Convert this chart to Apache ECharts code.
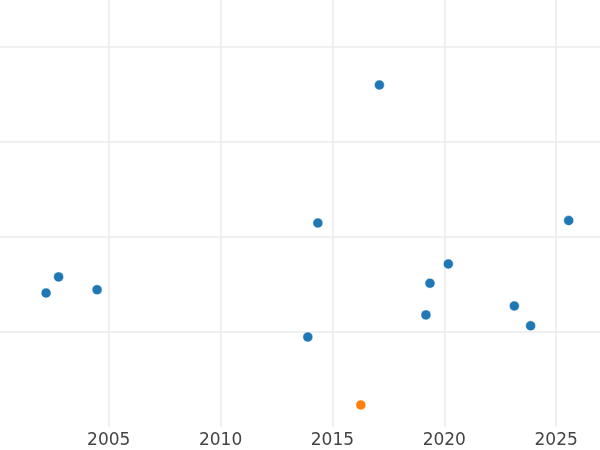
<!DOCTYPE html>
<html>
<head>
<meta charset="utf-8">
<script src="https://cdn.jsdelivr.net/npm/echarts@6/dist/echarts.min.js"></script>
<style>
html,body{margin:0;padding:0;background:#fff;width:600px;height:450px;overflow:hidden;position:relative}
#c{position:absolute;left:-118px;top:-48px;width:789px;height:498px}
</style>
</head>
<body>
<div id="c"></div>
<script>
// Blue series: [year, value]
const blueYears = [2002.20, 2002.76, 2004.48, 2013.90, 2014.35, 2017.10, 2019.18, 2019.36, 2020.18, 2023.13, 2023.86, 2025.56];
const blueValues = [1.41, 1.58, 1.445, 0.947, 2.147, 3.60, 1.18, 1.513, 1.716, 1.274, 1.065, 2.173];
// Orange series
const orangeYears = [2016.27];
const orangeValues = [0.232];
const xTicks = [2005, 2010, 2015, 2020, 2025];

const chart = echarts.init(document.getElementById('c'), null, {renderer: 'canvas'});
const toPairs = (xs, ys) => xs.map((x, i) => [x, ys[i]]);
chart.setOption({
  animation: false,
  backgroundColor: '#ffffff',
  grid: {left: 0, right: 0, top: 0, bottom: 23, containLabel: false},
  xAxis: {
    type: 'value', min: 1995, max: 2030, interval: 5,
    axisLine: {show: false}, axisTick: {show: false},
    axisLabel: {
      color: '#444', fontSize: 17, fontFamily: 'DejaVu Sans', margin: 5,
      formatter: v => xTicks.includes(v) ? String(v) : ''
    },
    splitLine: {show: true, lineStyle: {color: '#ebebeb', width: 1.5}}
  },
  yAxis: {
    type: 'value', min: 0, max: 5, interval: 1,
    axisLine: {show: false}, axisTick: {show: false}, axisLabel: {show: false},
    splitLine: {show: true, showMinLine: false, lineStyle: {color: '#ebebeb', width: 1.5}}
  },
  series: [
    {type: 'scatter', data: toPairs(blueYears, blueValues), symbolSize: 10,
     itemStyle: {color: '#1f77b4', borderColor: '#ffffff', borderWidth: 0.5, opacity: 1}},
    {type: 'scatter', data: toPairs(orangeYears, orangeValues), symbolSize: 10,
     itemStyle: {color: '#ff7f0e', borderColor: '#ffffff', borderWidth: 0.5, opacity: 1}}
  ]
});
</script>
</body>
</html>
